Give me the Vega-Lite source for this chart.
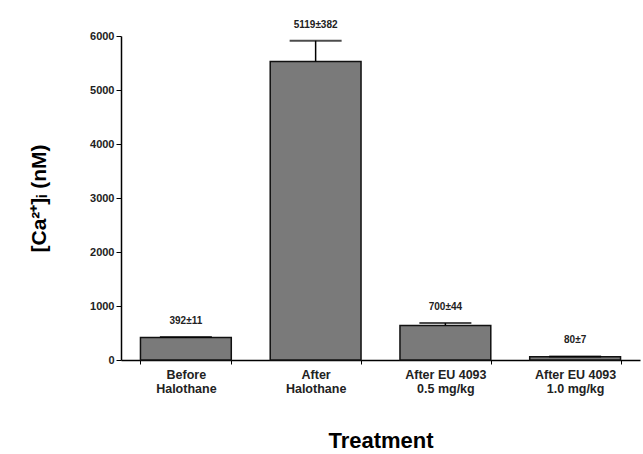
{
  "$schema": "https://vega.github.io/schema/vega-lite/v6.json",
  "width": 519,
  "height": 324,
  "autosize": {"type": "none"},
  "padding": {"left": 121, "top": 36, "right": 3, "bottom": 94},
  "background": "white",
  "config": {"view": {"stroke": null}, "font": "Liberation Sans"},
  "data": {
    "values": [
      {"treatment": "Before|Halothane", "value": 415, "err": 11, "label": "392±11"},
      {"treatment": "After|Halothane", "value": 5530, "err": 382, "label": "5119±382"},
      {"treatment": "After EU 4093|0.5 mg/kg", "value": 640, "err": 44, "label": "700±44"},
      {"treatment": "After EU 4093|1.0 mg/kg", "value": 60, "err": 7, "label": "80±7"}
    ]
  },
  "transform": [{"calculate": "datum.value + datum.err", "as": "top"}],
  "encoding": {
    "x": {
      "field": "treatment",
      "type": "nominal",
      "sort": null,
      "scale": {"paddingInner": 0.3, "paddingOuter": 0.15},
      "axis": {
        "title": "Treatment",
        "titleFontSize": 22,
        "titleFontWeight": "bold",
        "titleColor": "black",
        "titlePadding": 36,
        "labelAngle": 0,
        "labelExpr": "split(datum.label, '|')",
        "labelFontSize": 12.5,
        "labelFontWeight": "bold",
        "labelColor": "#222",
        "labelLineHeight": 14,
        "labelPadding": 4,
        "tickBand": "extent",
        "tickSize": 4,
        "tickColor": "black",
        "domainColor": "black",
        "domainWidth": 1.5
      }
    }
  },
  "layer": [
    {
      "mark": {"type": "bar", "fill": "#7a7a7a", "stroke": "#111", "strokeWidth": 1.5},
      "encoding": {
        "y": {
          "field": "value",
          "type": "quantitative",
          "scale": {"domain": [0, 6000], "nice": false},
          "axis": {
            "title": "[Ca²⁺]ᵢ (nM)",
            "titleFontSize": 21,
            "titleFontWeight": "bold",
            "titleColor": "black",
            "titlePadding": 40,
            "values": [0, 500, 1000, 1500, 2000, 2500, 3000, 3500, 4000, 4500, 5000, 5500, 6000],
            "labelExpr": "datum.value % 1000 === 0 ? datum.label : ''",
            "format": "d",
            "labelFontSize": 11,
            "labelFontWeight": "bold",
            "labelColor": "#222",
            "tickSize": {"condition": {"test": "datum.value % 1000 === 0", "value": 5}, "value": 3},
            "tickColor": "black",
            "domainColor": "black",
            "domainWidth": 1.5,
            "grid": false
          }
        }
      }
    },
    {
      "mark": {"type": "rule", "color": "black", "strokeWidth": 1.5},
      "encoding": {
        "y": {"field": "value", "type": "quantitative"},
        "y2": {"field": "top"}
      }
    },
    {
      "mark": {"type": "tick", "color": "black", "thickness": 2, "size": 52},
      "encoding": {
        "y": {"field": "top", "type": "quantitative"}
      }
    },
    {
      "mark": {"type": "text", "dy": -16, "fontSize": 10, "fontWeight": "bold", "color": "#222"},
      "encoding": {
        "y": {"field": "top", "type": "quantitative"},
        "text": {"field": "label"}
      }
    }
  ]
}
